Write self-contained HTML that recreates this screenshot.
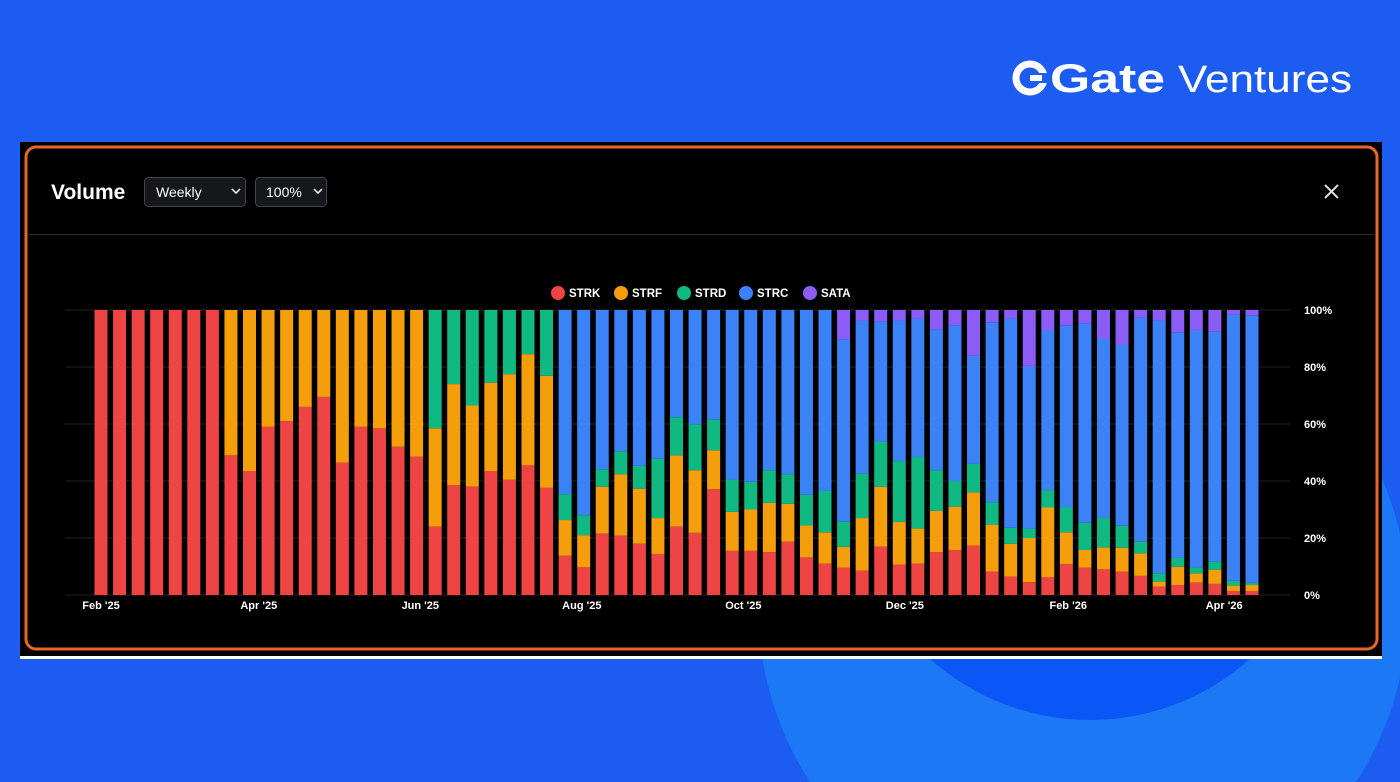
<!DOCTYPE html>
<html><head><meta charset="utf-8"><style>
html,body{margin:0;padding:0;width:1400px;height:782px;overflow:hidden;background:#1c5cf0;font-family:"Liberation Sans",sans-serif}
svg{display:block;overflow:hidden}
</style></head><body>
<svg width="1400" height="782" xmlns="http://www.w3.org/2000/svg">
<rect width="1400" height="782" fill="#1c5cf0"/>
<path d="M810 782A325 325 0 1 1 1400 534L1400 678A325 325 0 0 1 1356 782Z" fill="#1c78f5"/>
<circle cx="1090" cy="480" r="240" fill="#0b56f6"/>
<g>
<circle cx="1030" cy="78" r="14" fill="none" stroke="#fff" stroke-width="7"/>
<rect x="1030" y="73" width="18" height="10" fill="#1c5cf0"/><rect x="1030" y="75" width="12" height="6" fill="#fff"/>
<text x="1050" y="92" font-size="40" font-weight="bold" fill="#fff" textLength="115" lengthAdjust="spacingAndGlyphs">Gate</text>
<text x="1178" y="92" font-size="38" fill="#fff" textLength="174" lengthAdjust="spacingAndGlyphs">Ventures</text>
</g>
<rect x="20" y="142" width="1362" height="517" fill="#000"/>
<rect x="20" y="656" width="1362" height="3" fill="#fff"/>
<rect x="26" y="147" width="1351" height="502" rx="10" fill="none" stroke="#e8662a" stroke-width="3"/>
<text x="51" y="199" font-size="21" font-weight="bold" fill="#fff">Volume</text>
<g><rect x="144.5" y="177.5" width="101" height="29" rx="4" fill="#15171c" stroke="#444"/><text x="156" y="197" font-size="14" fill="#fff">Weekly</text><path d="M232 189l4 4 4-4" stroke="#fff" fill="none" stroke-width="1.5"/></g>
<g><rect x="255.5" y="177.5" width="71" height="29" rx="4" fill="#15171c" stroke="#444"/><text x="266" y="197" font-size="14" fill="#fff">100%</text><path d="M314 189l4 4 4-4" stroke="#fff" fill="none" stroke-width="1.5"/></g>
<path d="M1325 185l13 13M1338 185l-13 13" stroke="#ddd" stroke-width="2"/>
<rect x="29" y="234" width="1345" height="1" fill="#2a2a2a"/>
<g id="legend"></g>
<g id="grid"></g>
<g id="bars"></g>
<g id="labels"></g>
</svg>
<script>
const categories = Array.from({length:63},(_,i)=>'W'+(i+1));
const strk=[100,100,100,100,100,100,100,49,43.5,59,61,66,69.5,46.5,59,58.5,52,48.5,24,38.5,38,43.5,40.5,45.5,37.6,13.8,9.7,21.6,20.8,18,14.4,24,21.8,37.1,15.5,15.5,15,18.7,13.2,11,9.6,8.5,17,10.7,11,15,15.8,17.3,8.2,6.4,4.5,6.2,10.8,9.6,9,8.2,6.7,2.9,3.5,4.4,3.9,1.4,1.4];
const strf=[0,0,0,0,0,0,0,51,56.5,41,39,34,30.5,53.5,41,41.5,48,51.5,34.5,35.5,28.5,31,37,39,39.3,12.5,11.3,16.4,21.6,19.3,12.6,25,22,13.7,13.7,14.5,17.3,13.3,11.2,11,7.3,18.5,21,15,12.3,14.5,15.2,18.7,16.5,11.6,15.5,24.5,11.2,6.2,7.7,8.4,7.9,1.8,6.4,3.2,4.9,1.9,2.1];
const strd=[0,0,0,0,0,0,0,0,0,0,0,0,0,0,0,0,0,0,41.5,26,33.5,25.5,22.5,15.5,23.1,9.1,7,6,8,8,20.8,13.4,16.1,10.7,11.3,9.7,11.5,10.4,10.8,14.5,8.8,15.5,15.7,21.3,25.1,14.3,9,10,7.8,5.6,3.3,6.1,8.7,9.5,10.3,7.7,4.1,2.9,3.1,2.1,2.9,1.7,0.8];
const strc=[0,0,0,0,0,0,0,0,0,0,0,0,0,0,0,0,0,0,0,0,0,0,0,0,0,64.6,72,56,49.6,54.7,52.2,37.6,40.1,38.5,59.5,60.3,56.2,57.6,64.8,63.5,64.1,53.8,42.3,49.3,48.6,49.5,54.7,38,63.2,73.4,57.1,56,63.8,70,63,63.6,78.7,88.7,79.2,83.3,80.7,93.4,93.7];
const sata=[0,0,0,0,0,0,0,0,0,0,0,0,0,0,0,0,0,0,0,0,0,0,0,0,0,0,0,0,0,0,0,0,0,0,0,0,0,0,0,0,10.2,3.7,4,3.7,3,6.7,5.3,16,4.3,3,19.6,7.2,5.5,4.7,10,12.1,2.6,3.7,7.8,7,7.6,1.6,2];
const seriesNames=['STRK','STRF','STRD','STRC','SATA'];
const seriesColors=['#ef4444','#f59e0b','#10b981','#3b82f6','#8b5cf6'];
const yTicks=[0,20,40,60,80,100];
const xTickLabels=["Feb '25","Apr '25","Jun '25","Aug '25","Oct '25","Dec '25","Feb '26","Apr '26"];
const xTickIdx=[0,8.5,17.2,25.9,34.6,43.3,52.1,60.5];
const NS='http://www.w3.org/2000/svg';
const x0=101, step=(1252-101)/62, bw=13;
const xs=i=>x0+i*step;
const ys=v=>595-v*2.85;
function mk(t,a,p){const e=document.createElementNS(NS,t);for(const k in a)e.setAttribute(k,a[k]);p.appendChild(e);return e;}
const grid=document.getElementById('grid'),bars=document.getElementById('bars'),labels=document.getElementById('labels'),legend=document.getElementById('legend');
yTicks.forEach(t=>{
 const l=mk('line',{x1:65,x2:1290,y1:ys(t),y2:ys(t),stroke:'#222','stroke-width':1},grid);
 
 
 const tx=mk('text',{x:1304,y:ys(t)+4,'font-size':11,'font-weight':'bold',fill:'#fff'},labels);tx.textContent=t+'%';
 
 
});
xTickLabels.forEach((s,k)=>{
 const tx=mk('text',{x:xs(xTickIdx[k]),y:609,'font-size':11,'font-weight':'bold',fill:'#fff','text-anchor':'middle'},labels);tx.textContent=s;
 
 
});
const series=[strk,strf,strd,strc,sata];
categories.forEach((c,i)=>{
 let acc=0;
 series.forEach((arr,s)=>{
  const v=arr[i]; if(!v) return;
  const r=mk('rect',{x:xs(i)-bw/2,y:ys(acc+v),width:bw,height:v*2.85,fill:seriesColors[s]},bars);
  
  
  acc+=v;
 });
});
const lx=[558,621,684,746,810];
seriesNames.forEach((n,s)=>{
 const g=mk('g',{},legend);
 
 
 mk('circle',{cx:lx[s],cy:293,r:7,fill:seriesColors[s]},g);
 const t=mk('text',{x:lx[s]+11,y:297,'font-size':11.5,'font-weight':'bold',fill:'#fff'},g);t.textContent=n;
});
</script>
</body></html>
